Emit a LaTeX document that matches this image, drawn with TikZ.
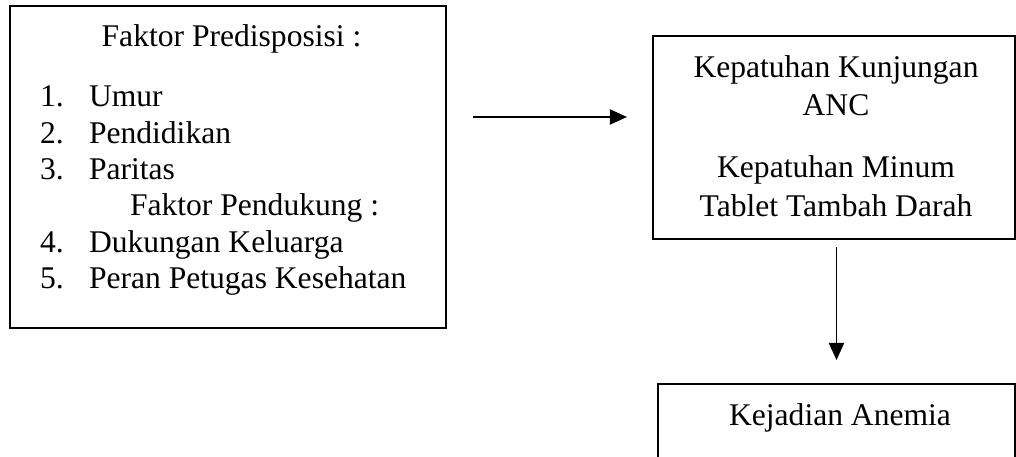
\documentclass[tikz,border=0pt]{standalone}
\usepackage{fontspec}
\setmainfont{Liberation Serif}
\usetikzlibrary{arrows.meta}
\usetikzlibrary{positioning}
\usetikzlibrary{fit}

\begin{document}
\begin{tikzpicture}[
        x=0.38pt, y=-0.38pt,
        font=\fontsize{12}{13.8}\selectfont,
        every node/.style={inner sep=0pt, outer sep=0pt},
        -{Triangle[length=6.5pt, width=5.8pt]}
        ]
        \tikzstyle{box} = [draw, line width=0.75pt, rectangle];
        \tikzstyle{link} = [line width=0.5pt];
        \useasboundingbox (0,0) rectangle (1016,457);
        \clip (0,0) rectangle (1016,457);

        % boxes
        \node [box, fit={(10,6) (446,328)}] (factor) {};
        \node [box, fit={(653,36) (1015,239)}] (comply) {};
        \node [box, fit={(658,384) (1015,520)}] (anemia) {};

        % left box text
        \node [anchor=base] (pre) at (231.5,47) {Faktor Predisposisi :};
        \foreach \n/\lbl/\y in {1/Umur/107, 2/Pendidikan/143.3, 3/Paritas/179.6,
                4/Dukungan Keluarga/252.2, 5/Peran Petugas Kesehatan/288.5} {
            \node [anchor=base west] (num\n) at (40,\y) {\n.};
            \node [anchor=base west] (fac\n) at (89,\y) {\lbl};
        }
        \node [anchor=base west] (sup) at (130,215.9) {Faktor Pendukung :};

        % right box text
        \node [anchor=base] (anc1) at (836,78) {Kepatuhan Kunjungan};
        \node [anchor=base] (anc2) at (836,116) {ANC};
        \node [anchor=base] (ttd1) at (836,178) {Kepatuhan Minum};
        \node [anchor=base] (ttd2) at (836,217) {Tablet Tambah Darah};
        \node [anchor=base] (kej) at (840,425) {Kejadian Anemia};

        % connectors
        \coordinate (lvl) at (0,117);
        \draw [link, shorten <=10.3pt, shorten >=9.9pt] (factor.east |- lvl) -- (comply.west |- lvl);
        \draw [link, shorten <=3pt, shorten >=9.1pt] (anemia.north |- comply.south) -- (anemia.north);
\end{tikzpicture}
\end{document}
